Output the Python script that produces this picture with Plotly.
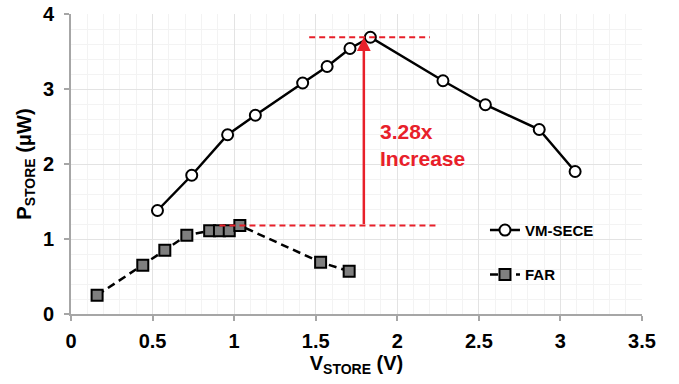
import plotly.graph_objects as go

# VM-SECE series
vm_x = [0.53, 0.74, 0.96, 1.13, 1.42, 1.57, 1.71, 1.835, 2.28, 2.54, 2.87, 3.09]
vm_y = [1.38, 1.85, 2.39, 2.65, 3.08, 3.30, 3.54, 3.69, 3.11, 2.79, 2.46, 1.90]

# FAR series
far_x = [0.16, 0.44, 0.575, 0.71, 0.85, 0.91, 0.97, 1.035, 1.53, 1.705]
far_y = [0.25, 0.65, 0.85, 1.05, 1.11, 1.11, 1.11, 1.18, 0.69, 0.57]

# annotation levels
peak_vm = 3.69
peak_far = 1.18
arrow_x = 1.795
top_ref = [1.46, 2.20]
bot_ref = [0.91, 2.24]
label_pos = (1.88, 2.26)

RED = "#e8202a"
FONT = "Liberation Sans, Arial, sans-serif"

fig = go.Figure()
fig.add_trace(go.Scatter(
    x=vm_x, y=vm_y, mode="lines+markers", name="<b>VM-SECE</b>",
    legendgroup="a",
    line=dict(color="black", width=2.5),
    marker=dict(symbol="circle", size=11, color="white", line=dict(color="black", width=2)),
))
fig.add_trace(go.Scatter(
    x=far_x, y=far_y, mode="lines+markers", name="<b>FAR</b>",
    legendgroup="b",
    line=dict(color="black", width=2.5, dash="8px,5px"),
    marker=dict(symbol="square", size=11, color="#7f7f7f", line=dict(color="black", width=2)),
))

# red dashed reference lines
fig.add_trace(go.Scatter(x=top_ref, y=[peak_vm, peak_vm], mode="lines", showlegend=False,
                         line=dict(color=RED, width=2, dash="6px,4px"), hoverinfo="skip"))
fig.add_trace(go.Scatter(x=bot_ref, y=[peak_far, peak_far], mode="lines", showlegend=False,
                         line=dict(color=RED, width=2, dash="6px,4px"), hoverinfo="skip"))

fig.add_annotation(x=arrow_x, y=peak_vm, ax=arrow_x, ay=peak_far, xref="x", yref="y",
                   axref="x", ayref="y", showarrow=True, arrowhead=2, arrowsize=1.1,
                   arrowwidth=2.5, arrowcolor=RED, text="")
fig.add_annotation(x=label_pos[0], y=label_pos[1], xref="x", yref="y", xanchor="left",
                   yanchor="middle", showarrow=False, align="left",
                   text="<b>3.28x<br>Increase</b>",
                   font=dict(family=FONT, size=21, color=RED))

fig.update_layout(
    width=679, height=384,
    margin=dict(l=71, r=37, t=14, b=70),
    plot_bgcolor="white", paper_bgcolor="white",
    font=dict(family=FONT, color="black"),
    legend=dict(x=0.725, y=0.334, xanchor="left", yanchor="top",
                bgcolor="rgba(0,0,0,0)", tracegroupgap=22, itemwidth=30,
                font=dict(family=FONT, size=15, color="black")),
)
fig.update_xaxes(
    range=[0, 3.5], dtick=0.5, tick0=0, automargin=False,
    showline=True, linecolor="#a6a6a6", linewidth=2,
    ticks="outside", ticklen=5, tickcolor="#a6a6a6", tickwidth=2,
    ticklabelstandoff=3,
    showgrid=True, gridcolor="#e3e3e3", gridwidth=1,
    minor=dict(dtick=0.1, showgrid=True, gridcolor="#f3f3f3", gridwidth=1),
    zeroline=False,
    tickfont=dict(family=FONT, size=20, color="black"),
    tickformat="~g",
    title=dict(text="<b>V<sub>STORE</sub> (V)</b>", font=dict(family=FONT, size=20), standoff=2),
)
fig.update_yaxes(
    range=[0, 4], dtick=1, tick0=0, automargin=False,
    showline=True, linecolor="#a6a6a6", linewidth=2,
    ticks="outside", ticklen=5, tickcolor="#a6a6a6", tickwidth=2,
    ticklabelstandoff=6,
    showgrid=True, gridcolor="#e3e3e3", gridwidth=1,
    minor=dict(dtick=0.2, showgrid=True, gridcolor="#f3f3f3", gridwidth=1),
    zeroline=False,
    tickfont=dict(family=FONT, size=20, color="black"),
    title=dict(text="<b>P<sub>STORE</sub> (μW)</b>", font=dict(family=FONT, size=20), standoff=6),
)
# bold tick labels
fig.update_xaxes(tickprefix="<b>", ticksuffix="</b>")
fig.update_yaxes(tickprefix="<b>", ticksuffix="</b>")

fig.write_html("out.html")
